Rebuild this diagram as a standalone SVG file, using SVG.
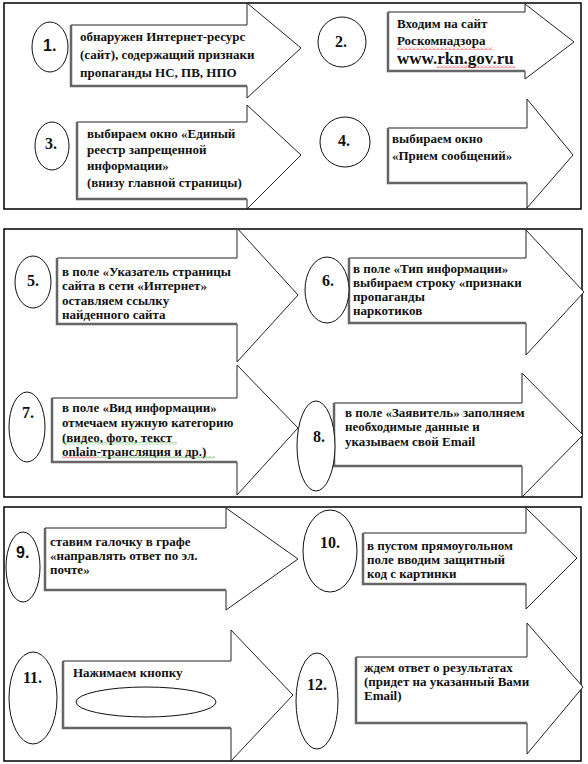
<svg xmlns="http://www.w3.org/2000/svg" width="588" height="764" viewBox="0 0 588 764">
<defs>
<style>
.panel{fill:#fff;stroke:#000;stroke-width:1.5}
.arrow{fill:#fff;stroke:#222;stroke-width:1}
.shadow{fill:none;stroke:#666;stroke-width:2.5}
.oval{fill:#fff;stroke:#111;stroke-width:1}
.num{font-family:"Liberation Serif","Times New Roman",serif;font-weight:bold;font-size:16px;fill:#111}
.nums{font-family:"Liberation Sans",Arial,sans-serif;font-weight:bold;font-size:16px;fill:#111}
.t{font-family:"Liberation Serif","Times New Roman",serif;font-weight:bold;font-size:13px;fill:#111}
.big{font-size:17px}
</style>
<pattern id="wr" width="4" height="3" patternUnits="userSpaceOnUse"><path d="M0 2.5 L2 0.5 L4 2.5" fill="none" stroke="#d22" stroke-width="0.8"/></pattern>
<pattern id="wg" width="4" height="3" patternUnits="userSpaceOnUse"><path d="M0 2.5 L2 0.5 L4 2.5" fill="none" stroke="#3a3" stroke-width="0.8"/></pattern>
</defs>
<rect width="588" height="764" fill="#fff"/>
<g id="panels">
<rect class="panel" x="4" y="3" width="577" height="206"/>
<rect class="panel" x="4" y="229" width="578" height="268"/>
<rect class="panel" x="4" y="507" width="577" height="254"/>
</g>
<g id="connectors"/>
<g id="step-1">
<polygon class="arrow" points="71,25 247,25 247,3 301,48 247,98 247,86 71,86"/>
<polyline class="shadow" points="71,25 71,86 247,86"/>
<ellipse class="oval" cx="50" cy="47" rx="18" ry="25"/>
<text class="nums" x="43" y="51">1.</text>
<text class="t"><tspan x="80" y="41">обнаружен Интернет-ресурс</tspan><tspan x="80" y="59">(сайт), содержащий признаки</tspan><tspan x="80" y="77">пропаганды НС, ПВ, НПО</tspan></text>
</g>
<g id="step-2">
<polygon class="arrow" points="388,12 525,12 525,4 574,42 525,79 525,71 388,71"/>
<polyline class="shadow" points="388,12 388,71 525,71"/>
<ellipse class="oval" cx="342" cy="42" rx="24" ry="25"/>
<text class="num" x="335" y="47">2.</text>
<text class="t"><tspan x="397" y="28">Входим на сайт</tspan><tspan x="397" y="45">Роскомнадзора</tspan><tspan x="397" y="64" class="big">www.rkn.gov.ru</tspan></text>
<rect x="397" y="47" width="96" height="3" fill="url(#wr)"/>
<rect x="437" y="65" width="78" height="3" fill="url(#wr)"/>
</g>
<g id="step-3">
<polygon class="arrow" points="77,122 247,122 247,105 301,155 247,209 247,199 77,199"/>
<polyline class="shadow" points="77,122 77,199 247,199"/>
<ellipse class="oval" cx="52" cy="146" rx="17" ry="24"/>
<text class="num" x="45" y="149">3.</text>
<text class="t"><tspan x="87" y="138">выбираем окно «Единый</tspan><tspan x="87" y="154">реестр запрещенной</tspan><tspan x="87" y="170">информации»</tspan><tspan x="87" y="187">(внизу главной страницы)</tspan></text>
</g>
<g id="step-4">
<polygon class="arrow" points="388,128 527,128 527,99 573,155 527,208 527,183 388,183"/>
<polyline class="shadow" points="388,128 388,183 527,183"/>
<ellipse class="oval" cx="345" cy="142" rx="25" ry="25"/>
<text class="num" x="338" y="146">4.</text>
<text class="t"><tspan x="392" y="143">выбираем окно</tspan><tspan x="392" y="160">«Прием сообщений»</tspan></text>
</g>
<g id="step-5">
<polygon class="arrow" points="57,258 237,258 237,228 298,295 237,362 237,324 57,324"/>
<polyline class="shadow" points="57,258 57,324 237,324"/>
<ellipse class="oval" cx="33" cy="282" rx="18" ry="26"/>
<text class="num" x="27" y="286">5.</text>
<text class="t"><tspan x="62" y="276">в поле «Указатель страницы</tspan><tspan x="62" y="290">сайта в сети «Интернет»</tspan><tspan x="62" y="305">оставляем ссылку</tspan><tspan x="62" y="319">найденного сайта</tspan></text>
</g>
<g id="step-6">
<polygon class="arrow" points="349,258 526,258 526,230 584,292 526,355 526,323 349,323"/>
<polyline class="shadow" points="349,258 349,323 526,323"/>
<ellipse class="oval" cx="327" cy="290" rx="22" ry="33"/>
<text class="num" x="322" y="286">6.</text>
<text class="t"><tspan x="353" y="273">в поле «Тип информации»</tspan><tspan x="353" y="287">выбираем строку «признаки</tspan><tspan x="353" y="301">пропаганды</tspan><tspan x="353" y="315">наркотиков</tspan></text>
</g>
<g id="step-7">
<polygon class="arrow" points="52,398 237,398 237,365 298,428 237,495 237,462 52,462"/>
<polyline class="shadow" points="52,398 52,462 237,462"/>
<ellipse class="oval" cx="27" cy="427" rx="18" ry="35"/>
<text class="num" x="22" y="418">7.</text>
<text class="t"><tspan x="62" y="412">в поле «Вид информации»</tspan><tspan x="62" y="427">отмечаем нужную категорию</tspan><tspan x="62" y="442">(видео, фото, текст</tspan><tspan x="62" y="456">onlain-трансляция и др.)</tspan></text>
<rect x="62" y="442" width="115" height="3" fill="url(#wg)"/>
<rect x="62" y="456" width="35" height="3" fill="url(#wr)"/>
<rect x="97" y="456" width="118" height="3" fill="url(#wg)"/>
</g>
<g id="step-8">
<polygon class="arrow" points="334,403 522,403 522,373 583,435 522,497 522,466 334,466"/>
<polyline class="shadow" points="334,403 334,466 522,466"/>
<ellipse class="oval" cx="316" cy="446" rx="19" ry="45"/>
<text class="num" x="313" y="442">8.</text>
<text class="t"><tspan x="345" y="417">в поле «Заявитель» заполняем</tspan><tspan x="345" y="431">необходимые данные и</tspan><tspan x="345" y="446">указываем свой Email</tspan></text>
</g>
<g id="step-9">
<polygon class="arrow" points="45,528 226,528 226,508 298,559 226,610 226,590 45,590"/>
<polyline class="shadow" points="45,528 45,590 226,590"/>
<ellipse class="oval" cx="23" cy="567" rx="17" ry="35"/>
<text class="nums" x="16" y="558">9.</text>
<text class="t"><tspan x="50" y="546">ставим галочку в графе</tspan><tspan x="50" y="560">«направлять ответ по эл.</tspan><tspan x="50" y="574">почте»</tspan></text>
</g>
<g id="step-10">
<polygon class="arrow" points="363,533 526,533 526,508 577,558 526,609 526,584 363,584"/>
<polyline class="shadow" points="363,533 363,584 526,584"/>
<ellipse class="oval" cx="330" cy="551" rx="27" ry="41"/>
<text class="num" x="320" y="548">10.</text>
<text class="t"><tspan x="367" y="550">в пустом прямоугольном</tspan><tspan x="367" y="564">поле вводим защитный</tspan><tspan x="367" y="578">код с картинки</tspan></text>
</g>
<g id="step-11">
<polygon class="arrow" points="63,661 231,661 231,630 293,695 231,761 231,728 63,728"/>
<polyline class="shadow" points="63,661 63,728 231,728"/>
<ellipse class="oval" cx="33" cy="698" rx="24" ry="46"/>
<text class="num" x="23" y="683">11.</text>
<text class="t" x="73" y="677">Нажимаем кнопку</text>
<ellipse class="oval" cx="146" cy="702" rx="70" ry="15"/>
</g>
<g id="step-12">
<polygon class="arrow" points="356,657 527,657 527,623 583,687 527,754 527,723 356,723"/>
<polyline class="shadow" points="356,657 356,723 527,723"/>
<ellipse class="oval" cx="317" cy="701" rx="21" ry="48"/>
<text class="num" x="307" y="690">12.</text>
<text class="t"><tspan x="364" y="672">ждем ответ о результатах</tspan><tspan x="364" y="686">(придет на указанный Вами</tspan><tspan x="364" y="700">Email)</tspan></text>
</g>
</svg>
